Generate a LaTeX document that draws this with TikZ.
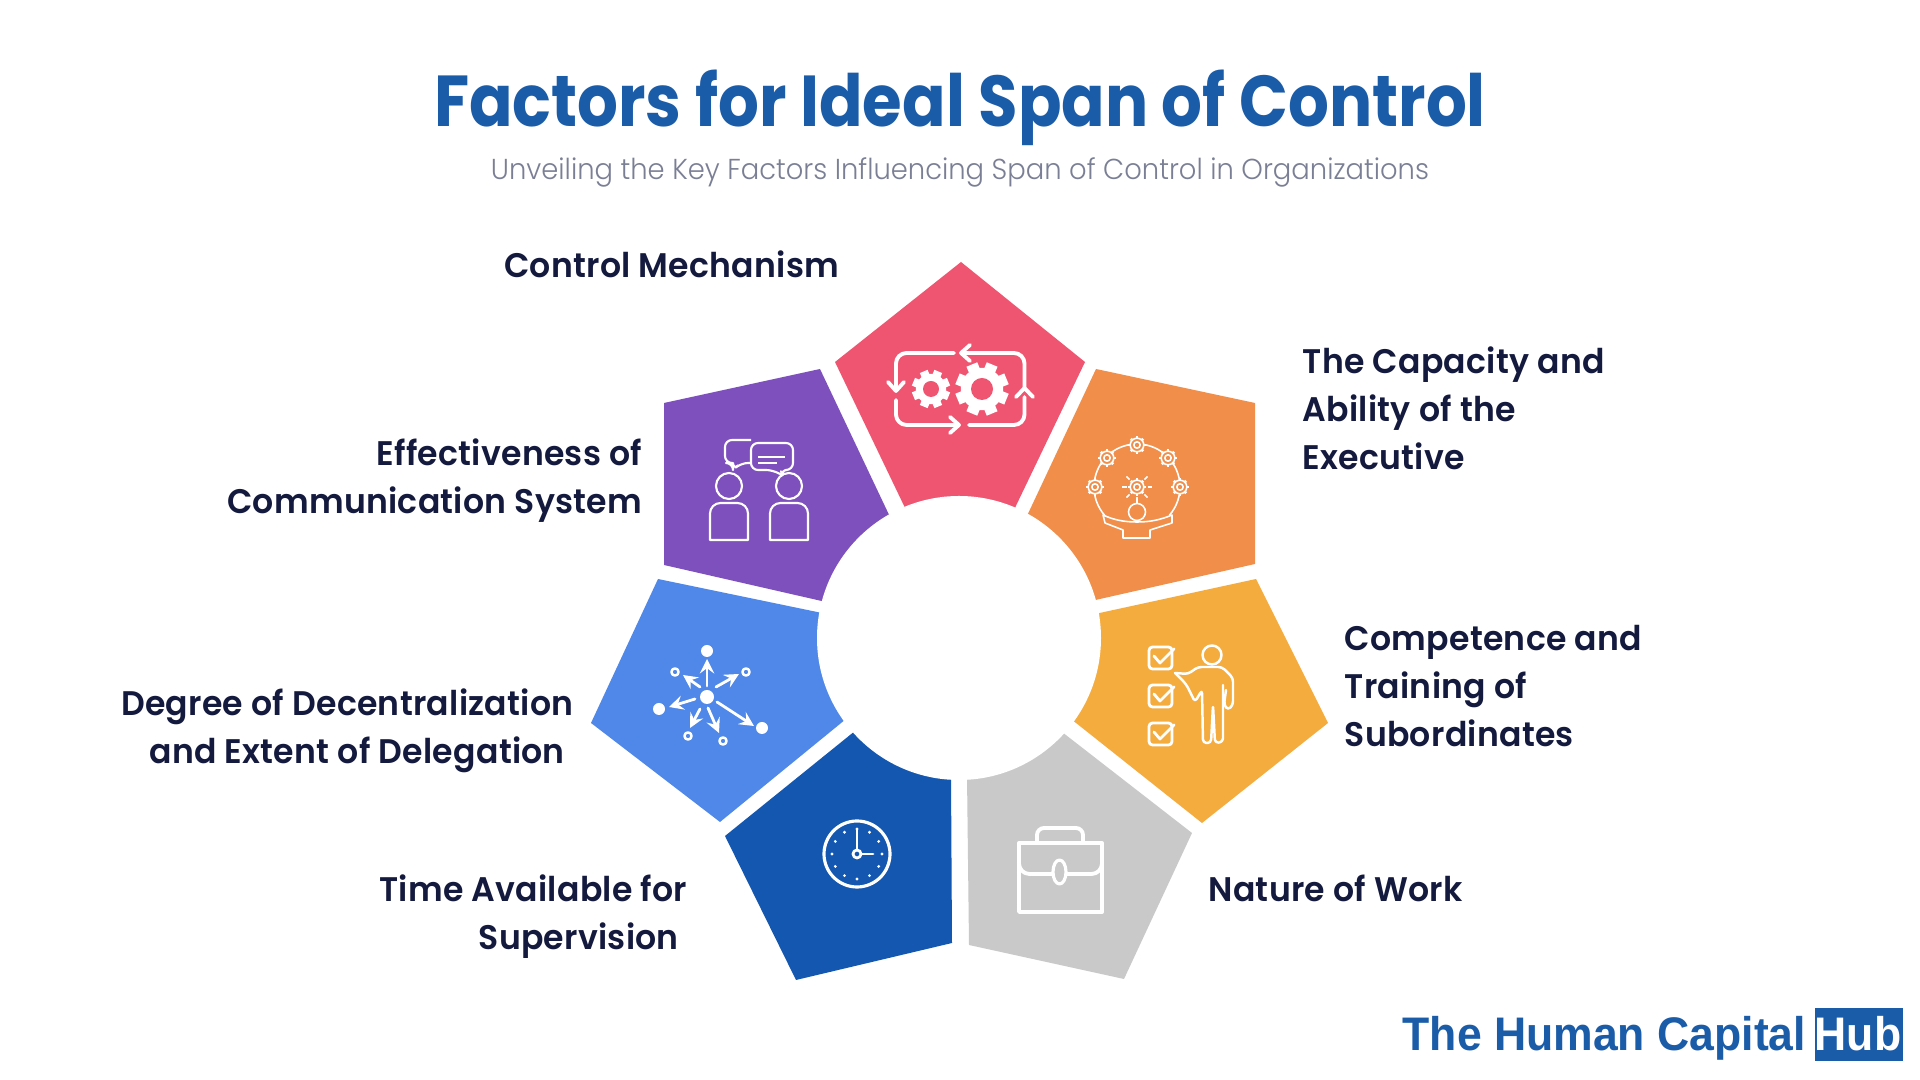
\documentclass[tikz,border=0pt]{standalone}
\usepackage{fontspec}
\usepackage{xcolor}
\setmainfont{Poppins}
\newfontfamily\titlefont[FakeStretch=0.89]{Poppins}
\newfontfamily\labelfont[FakeStretch=0.97,LetterSpace=0.8]{Poppins SemiBold}
\newfontfamily\subfont[FakeStretch=0.95]{Poppins Light}
\newfontfamily\logofont[FakeStretch=0.945]{Liberation Sans}
\definecolor{headblue}{HTML}{1B5CA8}
\definecolor{subgrey}{HTML}{7A7F95}
\definecolor{labelnavy}{HTML}{141A3E}
\definecolor{redF}{HTML}{EF5570}
\definecolor{orangeF}{HTML}{F08E4A}
\definecolor{yellowF}{HTML}{F4AC3F}
\definecolor{greyF}{HTML}{C9C9C9}
\definecolor{navyF}{HTML}{1357B0}
\definecolor{blueF}{HTML}{4F88E8}
\definecolor{purpleF}{HTML}{7E50BE}

\begin{document}
\begin{tikzpicture}[x=0.01cm, y=-0.01cm,
    factorlabel/.style={inner sep=0pt, text=labelnavy, font=\labelfont\fontsize{9.7}{13.66}\selectfont},
    iconthick/.style={draw=white, line width=1.1pt, line join=round, line cap=round},
    iconthin/.style={draw=white, line width=0.45pt, line join=round},
    iconarrow/.style={iconthick, line width=0.8pt, -stealth}]
    \fill[white] (0,0) rectangle (1920,1080);

    % --- Heading ---
    \node[inner sep=0pt, anchor=base, text=headblue, font=\titlefont\bfseries\fontsize{20.5}{24}\selectfont] (heading) at (960,127) {Factors for Ideal Span of Control};
    \node[inner sep=0pt, anchor=base, text=subgrey, font=\subfont\fontsize{8.2}{10}\selectfont] (subheading) at (960,180) {Unveiling the Key Factors Influencing Span of Control in Organizations};

    % --- Pentagons ---
    \fill[redF] (961,262) -- (1085,362) -- (1013,512) -- (907,512) -- (835,362) -- cycle;
    \fill[orangeF] (1096,369) -- (1255,403) -- (1255,564) -- (1091,601) -- (1026,518) -- cycle;
    \fill[yellowF] (1256,579) -- (1328,723) -- (1202,823) -- (1071,719) -- (1095,614) -- cycle;
    \fill[greyF] (1192,833) -- (1124,979) -- (969,945) -- (967,775) -- (1062,732) -- cycle;
    \fill[navyF] (725,836) -- (796,980) -- (952,943) -- (951,775) -- (855,731) -- cycle;
    \fill[blueF] (591,723) -- (720,822) -- (846,719) -- (822,613) -- (658,579) -- cycle;
    \fill[purpleF] (664,403) -- (820,369) -- (891,519) -- (826,602) -- (664,565) -- cycle;
    \fill[white] (959,638) circle (142);

    % --- Labels ---
    \node[factorlabel, anchor=base east] (control) at (840,278) {Control Mechanism};
    \node[factorlabel, anchor=base west, align=left] (capacity) at (1302,470) {The Capacity and\\Ability of the\\Executive};
    \node[factorlabel, anchor=base west, align=left] (competence) at (1344,747) {Competence and\\Training of\\Subordinates};
    \node[factorlabel, anchor=base west] (nature) at (1208,902) {Nature of Work};
    \node[factorlabel, anchor=base east, align=right] (time) at (688,950) {Time Available for\\Supervision\hspace*{2.4pt}};
    \node[factorlabel, anchor=base east, align=right] (degree) at (574,764) {Degree of Decentralization\\and Extent of Delegation\hspace*{2.4pt}};
    \node[factorlabel, anchor=base east, align=right] (effect) at (643,514) {Effectiveness of\\Communication System};

    % --- Control icon ---
    \draw[iconthick, rounded corners=3pt] (954,353) -- (896,353) -- (896,390);
    \draw[iconthick, rounded corners=3pt] (896,400) -- (896,425) -- (958,425);
    \draw[iconthick, rounded corners=3pt] (969,425) -- (1024.5,425) -- (1024.5,397);
    \draw[iconthick, rounded corners=3pt] (1024.5,388) -- (1024.5,353) -- (962,353);
    \draw[iconthick] (888,382) -- (896,391) -- (904,382);
    \draw[iconthick] (950,417) -- (959,425) -- (950,433);
    \draw[iconthick] (1016,397) -- (1024.5,388) -- (1033,397);
    \draw[iconthick] (970,345) -- (961,353) -- (970,361);
    \foreach \cx/\cy/\rr/\hole in {931/389/19/8, 982/389/26.5/11} {
        \fill[white] (\cx,\cy) circle (\rr*0.8);
        \foreach \a in {0,45,...,315} {
            \draw[white, line width=\rr*0.125pt] (\cx,\cy) ++(\a+22.5:\rr*0.7) -- ++(\a+22.5:\rr*0.3);
        }
        \fill[redF] (\cx,\cy) circle (\hole);
    }

    % --- Capacity icon ---
    \draw[iconthin, smooth] plot[domain=-41:221, samples=50] ({1137+43*cos(\x)},{487-43*sin(\x)});
    \draw[iconthin] (1103,515) -- (1105,523) -- (1123,530) -- (1123,538) -- (1150,538) -- (1150,530) -- (1172,523) -- (1172,515) .. controls (1160,520) and (1150,522) .. (1137,522) .. controls (1124,522) and (1114,520) .. (1103,515) -- cycle;
    \draw[iconthin, fill=orangeF] (1137,512) circle (8.5);
    \draw[iconthin] (1137,497) -- (1137,503);
    \foreach \cx/\cy in {1137/445, 1107/458, 1168/458, 1095/487, 1180/487, 1137/487} {
        \draw[iconthin, fill=orangeF] (\cx,\cy) circle (6.8);
        \draw[iconthin] (\cx,\cy) circle (3.2);
        \foreach \a in {0,45,...,315} {
            \draw[white, line width=0.75pt] (\cx,\cy) ++(\a:6.5) -- ++(\a:2.2);
        }
    }
    \foreach \a in {0,45,90,135,180,-135,-45} {
        \draw[iconthin] (1137,487) ++(\a:10.5) -- ++(\a:4.5);
    }

    % --- Competence icon ---
    \foreach \y in {647,685,723} {
        \draw[iconthick, line width=0.8pt, rounded corners=1pt] (1149,\y) rectangle (1172,\y+22);
        \draw[iconthick, line width=0.8pt] (1154,\y+9) -- (1160,\y+16) -- (1174,\y+2);
    }
    \draw[iconthick, line width=0.7pt] (1212,655) circle (9.5);
    \draw[iconthick, line width=0.7pt, rounded corners=1pt] (1175,673) -- (1188,674) -- (1198,667) -- (1222,667) -- (1233,678) -- (1233,705) -- (1228,710) -- (1224,705) -- (1226,690);
    \draw[iconthick, line width=0.7pt, rounded corners=1pt] (1175,673) -- (1186,684) -- (1195,702) -- (1202,690) -- (1203,743) -- (1211,743) -- (1213,705) -- (1215,743) -- (1223,742) -- (1223,685);

    % --- Nature icon ---
    \draw[iconthick, rounded corners=2pt] (1037,843) -- (1037,828) -- (1083,828) -- (1083,843);
    \draw[iconthick] (1019,843) rectangle (1102,912);
    \draw[iconthick, rounded corners=3pt] (1019,866) -- (1019,874) -- (1052,874);
    \draw[iconthick, rounded corners=3pt] (1102,866) -- (1102,874) -- (1067,874);
    \draw[iconthick, line width=0.9pt, fill=greyF] (1059.5,872) ellipse (6.5 and 12);

    % --- Time icon ---
    \draw[iconthick, line width=0.9pt] (857,854) circle (33);
    \draw[iconthick, line width=0.8pt] (857,854) circle (4);
    \draw[iconthick, line width=0.8pt] (857,850) -- (857,830);
    \draw[iconthick, line width=0.8pt] (861,854) -- (873,854);
    \foreach \a in {0,30,...,330} {
        \fill[white] (857,854) ++(\a:25) circle (1.6);
    }

    % --- Delegation icon ---
    \fill[white] (707,697) circle (7);
    \foreach \cx/\cy in {707/651, 659/709, 762/728} {
        \fill[white] (\cx,\cy) circle (6);
    }
    \foreach \cx/\cy in {746/672, 675/672, 688/736, 723/741} {
        \draw[iconthick, line width=0.7pt] (\cx,\cy) circle (3.6);
    }
    \draw[iconarrow] (707,686) -- (707,659);
    \draw[iconarrow] (716,687) -- (739,674);
    \draw[iconarrow] (700,687) -- (683,675);
    \draw[iconarrow] (695,699) -- (669,707);
    \draw[iconarrow] (700,709) -- (690,728);
    \draw[iconarrow] (708,708) -- (719,733);
    \draw[iconarrow] (717,702) -- (754,726);

    % --- Communication icon ---
    \draw[iconthin, line width=0.6pt, rounded corners=2pt] (751,440) -- (725,440) -- (725,463) -- (733,463) -- (733,470) -- (741,463) -- (751,463);
    \draw[iconthin, line width=0.6pt, rounded corners=2pt, fill=purpleF] (751,443) -- (793,443) -- (793,470) -- (780,470) -- (785,477) -- (773,470) -- (751,470) -- cycle;
    \draw[iconthin, line width=0.6pt] (758,457) -- (785,457);
    \draw[iconthin, line width=0.6pt] (758,463) -- (777,463);
    \foreach \cx in {729,789} {
        \draw[iconthin, line width=0.6pt, fill=purpleF] (\cx,486) circle (13);
        \draw[iconthin, line width=0.6pt] (\cx-19,540) [rounded corners=3pt] -- (\cx-19,503) -- (\cx+19,503) [sharp corners] -- (\cx+19,540) -- cycle;
    }

    % --- Logo ---
    \node[inner sep=0pt, anchor=base west, text=headblue, font=\logofont\bfseries\fontsize{13.4}{16}\selectfont] (logotext) at (1402,1051) {The Human Capital};
    \fill[headblue] (1815,1008) rectangle (1903,1061);
    \node[inner sep=0pt, anchor=base, text=white, font=\logofont\bfseries\fontsize{13.4}{16}\selectfont] (logohub) at (1858,1051) {Hub};
\end{tikzpicture}
\end{document}
